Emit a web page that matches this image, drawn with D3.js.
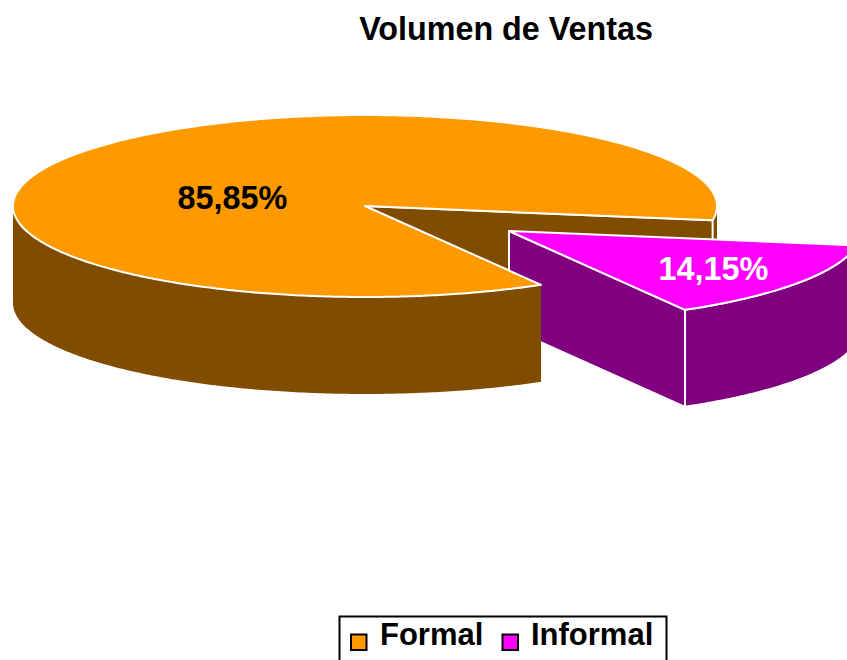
<!DOCTYPE html>
<html><head><meta charset="utf-8">
<script src="https://cdn.jsdelivr.net/npm/d3@7"></script>
<style>html,body{margin:0;padding:0;background:#fff;overflow:hidden}svg{display:block;font-family:"Liberation Sans",Arial,sans-serif;font-weight:bold}</style>
</head><body><svg id="c" width="847" height="660"></svg>
<script>
const categories = ["Formal", "Informal"];
const values = [85.85, 14.15];
const labels = ["85,85%", "14,15%"];
const topColors = ["#ff9900", "#ff00ff"];
const sideColors = ["#804d00", "#800080"];
const labelColors = ["#000", "#fff"];
const titleText = "Volumen de Ventas";

const svg = d3.select("#c");
const cx = 365, cy = 206, rx = 352, ry = 91, depth = 97;
const offset = [[0, 0], [144, 25]];
const start = 150 * Math.PI / 180;
const arcs = d3.pie().sort(null).startAngle(start).endAngle(start + 2 * Math.PI)(values);

const ptX = d3.scaleLinear().domain([-1, 1]).range([cx - rx, cx + rx]);
const ptY = d3.scaleLinear().domain([-1, 1]).range([cy + ry, cy - ry]);
const P = (a, i, dz = 0) => [ptX(Math.sin(a)) + offset[i][0], ptY(Math.cos(a)) + offset[i][1] + dz];
const C = (i, dz = 0) => [cx + offset[i][0], cy + offset[i][1] + dz];
const line = d3.line();
const samples = (a0, a1) => { const n = Math.ceil(Math.abs(a1 - a0) * 90); return d3.range(n + 1).map(k => a0 + (a1 - a0) * k / n); };
const stroke = (sel, w = 2) => sel.attr("stroke", "#fff").attr("stroke-width", w).attr("stroke-linejoin", "round");
const poly = (pts, fill, w) => stroke(svg.append("path").attr("d", line(pts) + "Z").attr("fill", fill), w);
const band = (angles, i) => line(angles.map(a => P(a, i)).concat(angles.slice().reverse().map(a => P(a, i, depth)))) + "Z";

const [f, inf] = arcs;

// Formal: sliver of outer wall right of the cut, then the cut wall (back-most)
const rimRight = 2.5 * Math.PI;
svg.append("path").attr("d", band(samples(rimRight, f.endAngle), 0)).attr("fill", sideColors[0]);
poly([C(0), P(f.endAngle, 0), P(f.endAngle, 0, depth), C(0, depth)], sideColors[0], 2);

// Informal: cut wall, outer wall, top
poly([C(1), C(1, depth), P(inf.endAngle, 1, depth), P(inf.endAngle, 1)], sideColors[1], 2);
const infOuter = samples(inf.startAngle, inf.endAngle);
poly(infOuter.map(a => P(a, 1)).concat(infOuter.slice().reverse().map(a => P(a, 1, depth))), sideColors[1], 2);
poly([C(1)].concat(infOuter.map(a => P(a, 1))), topColors[1], 2);

// Formal: outer wall visible from the cut edge round to the left rim, then top
const wallEnd = 270 * Math.PI / 180;
svg.append("path").attr("d", band(samples(f.startAngle, wallEnd), 0)).attr("fill", sideColors[0]);
poly([C(0)].concat(samples(f.startAngle, f.endAngle).map(a => P(a, 0))), topColors[0], 2);

// Texts
svg.append("text").attr("x", 506).attr("y", 40).attr("text-anchor", "middle").attr("font-size", 32.3).text(titleText);
const labelPos = [[232.5, 209], [713.5, 280]];
labels.forEach((t, i) => svg.append("text").attr("x", labelPos[i][0]).attr("y", labelPos[i][1])
  .attr("text-anchor", "middle").attr("font-size", 32.4).attr("fill", labelColors[i]).text(t));

// Legend
svg.append("rect").attr("x", 339.5).attr("y", 616.5).attr("width", 327).attr("height", 60)
  .attr("fill", "#fff").attr("stroke", "#000").attr("stroke-width", 2);
const swatchX = [351, 502.5], textX = [380, 531];
categories.forEach((c, i) => {
  svg.append("rect").attr("x", swatchX[i]).attr("y", 634.5).attr("width", 15.5).attr("height", 15.5)
    .attr("fill", topColors[i]).attr("stroke", "#000").attr("stroke-width", 2);
  svg.append("text").attr("x", textX[i]).attr("y", 645).attr("font-size", 31).attr("fill", "#000").text(c);
});
</script></body></html>
